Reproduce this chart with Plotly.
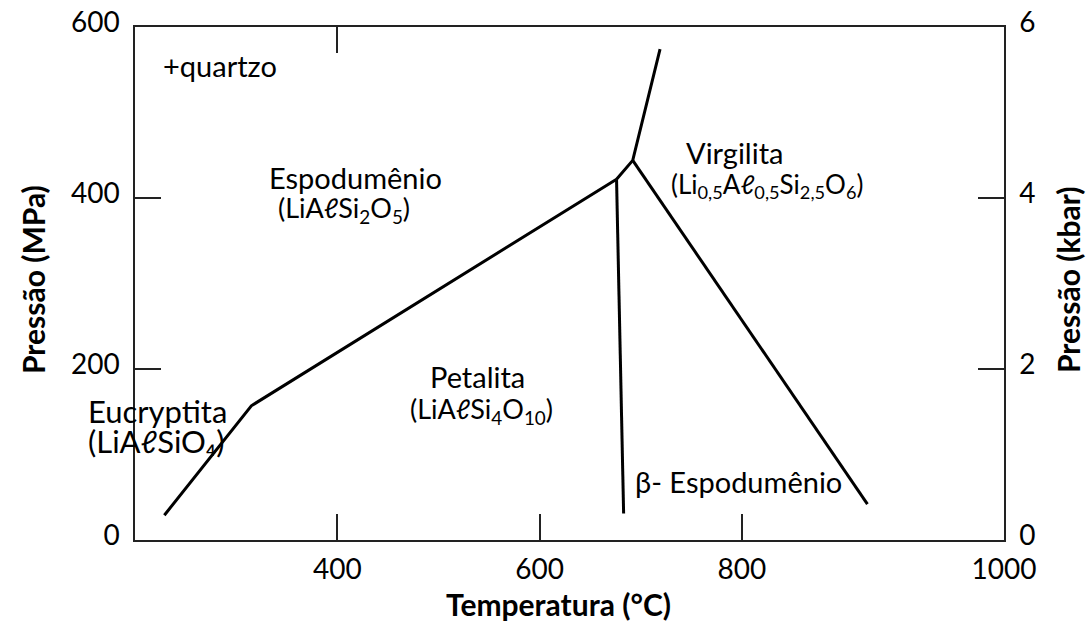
import plotly.graph_objects as go

# Phase boundary segments (Temperature °C, Pressure MPa)
eucryptita_T = [229, 315, 676]
eucryptita_P = [29, 157, 422]

petalita_beta_T = [676, 683]
petalita_beta_P = [422, 31]

triple_T = [676, 692, 719]
triple_P = [422, 444, 574]

virgilita_beta_T = [692, 924]
virgilita_beta_P = [444, 42]

x_tick_labels = ["400", "600", "800", "1000"]
x_tick_vals = [400, 600, 800, 1059]
y_left_ticks = [0, 200, 400, 600]
y_right_ticks = [0, 2, 4, 6]

FONT = "Lato, 'Open Sans', 'DejaVu Sans', sans-serif"
XR = [200, 1059]

fig = go.Figure()
line = dict(color="black", width=3)
for xs, ys in [(eucryptita_T, eucryptita_P), (petalita_beta_T, petalita_beta_P),
               (triple_T, triple_P), (virgilita_beta_T, virgilita_beta_P)]:
    fig.add_trace(go.Scatter(x=xs, y=ys, mode="lines", line=line,
                             showlegend=False, hoverinfo="skip"))

# invisible trace to activate secondary axes
fig.add_trace(go.Scatter(x=[XR[0]], y=[0], xaxis="x2", yaxis="y2", mode="markers",
                         marker=dict(opacity=0), showlegend=False, hoverinfo="skip"))

axis_common = dict(showgrid=False, zeroline=False, showline=True, linecolor="#222",
                   linewidth=1.5, ticks="inside", ticklen=26, tickwidth=1.5,
                   tickcolor="#222", automargin=False,
                   tickfont=dict(family=FONT, size=28, color="black"))

fig.update_layout(
    width=1088, height=622,
    margin=dict(l=135, r=84, t=27, b=82),
    plot_bgcolor="white", paper_bgcolor="white",
    xaxis=dict(range=XR, tickvals=x_tick_vals, ticktext=x_tick_labels,
               ticklabelstandoff=4, mirror=True, **axis_common),
    xaxis2=dict(range=XR, overlaying="x", side="top", tickvals=[400],
                showticklabels=False, **axis_common),
    yaxis=dict(range=[0, 600], tickvals=y_left_ticks, ticklabelstandoff=8,
               ticklabelshift=-5, **axis_common),
    yaxis2=dict(range=[0, 6], overlaying="y", side="right", tickvals=y_right_ticks,
                ticklabelstandoff=8, ticklabelshift=-5, **axis_common),
)

def ann(text, x, y, anchor="center", size=29):
    fig.add_annotation(x=x, y=y, text=text, showarrow=False, xanchor=anchor,
                       yanchor="middle", font=dict(family=FONT, size=size, color="black"))

ann("+quartzo", 225.6, 555, anchor="left")
ann("Espodumênio", 418, 424)
ann("(LiAℓSi<sub>2</sub>O<sub>5</sub>)", 407, 386, size=27)
ann("Virgilita", 793, 453)
ann("(Li<sub>0,5</sub>Aℓ<sub>0,5</sub>Si<sub>2,5</sub>O<sub>6</sub>)", 825, 415, size=26)
ann("Petalita", 538.5, 191)
ann("(LiAℓSi<sub>4</sub>O<sub>10</sub>)", 542.6, 152, size=27)
ann("Eucryptita", 222, 151, size=31)
ann("(LiAℓSiO₄)", 221.6, 116, size=31)
ann("β- Espodumênio", 797, 68)

# axis titles
title_font = dict(family=FONT, size=30, color="black")
fig.add_annotation(text="<b>Temperatura (°C)</b>", xref="paper", yref="paper",
                   x=(558 - 135) / (1004 - 135), y=-(604 - 540) / 513, showarrow=False,
                   xanchor="center", yanchor="middle", font=title_font)
fig.add_annotation(text="<b>Pressão (MPa)</b>", xref="paper", yref="paper",
                   x=(33 - 135) / (1004 - 135), y=(540 - 280) / 513, showarrow=False,
                   textangle=-90, xanchor="center", yanchor="middle", font=title_font)
fig.add_annotation(text="<b>Pressão (kbar)</b>", xref="paper", yref="paper",
                   x=(1068 - 135) / (1004 - 135), y=(540 - 280) / 513, showarrow=False,
                   textangle=-90, xanchor="center", yanchor="middle", font=title_font)

fig.write_html("out.html", config={"displayModeBar": False},
               post_script="document.body.style.margin='0';document.body.style.overflow='hidden';")
